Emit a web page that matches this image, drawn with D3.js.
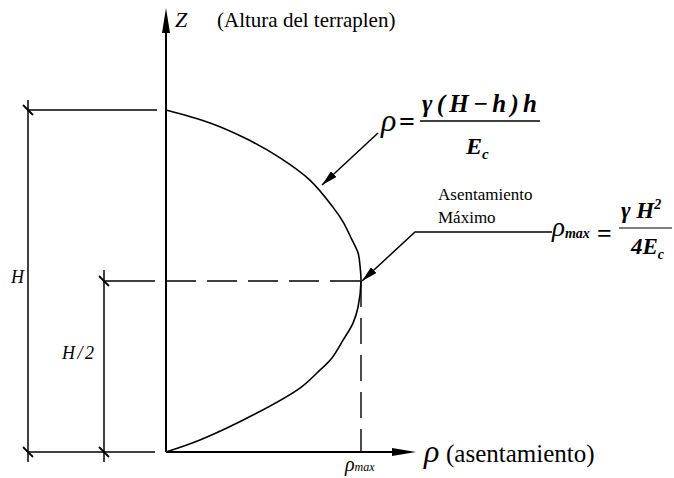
<!DOCTYPE html>
<html>
<head>
<meta charset="utf-8">
<script src="https://cdn.jsdelivr.net/npm/d3@7"></script>
<style>
  body { margin: 0; background: #fff; }
  text { font-family: "Liberation Serif", "Times New Roman", serif; fill: #000; }
</style>
</head>
<body>
<svg width="674" height="478"></svg>
<script>
// settlement curve: h = height / H, rho = settlement / rho_max
const hValues = [0, 0.035, 0.111, 0.187, 0.231, 0.275, 0.327, 0.377, 0.424, 0.5,
  0.544, 0.582, 0.62, 0.673, 0.716, 0.795, 0.86, 0.915, 0.962, 1];
const rhoValues = [0, 0.174, 0.456, 0.687, 0.774, 0.851, 0.908, 0.959, 0.985, 1,
  0.995, 0.985, 0.954, 0.908, 0.856, 0.738, 0.585, 0.415, 0.226, 0];
const axisLabels = ['Z', '(Altura del terraplen)', 'ρ', '(asentamiento)'];

const svg = d3.select('svg');
const x = d3.scaleLinear().domain([0, 1]).range([166, 361]);
const y = d3.scaleLinear().domain([0, 1]).range([452, 110]);
const pts = hValues.map((h, i) => [rhoValues[i], h]);

const defs = svg.append('defs');
defs.append('marker')
  .attr('id', 'head')
  .attr('viewBox', '0 0 16 8')
  .attr('refX', 16).attr('refY', 4)
  .attr('markerWidth', 16).attr('markerHeight', 8)
  .attr('markerUnits', 'userSpaceOnUse')
  .attr('orient', 'auto')
  .append('path').attr('d', 'M0,0L16,4L0,8Z').attr('fill', '#000');

const line = (x1, y1, x2, y2, w) =>
  svg.append('line')
    .attr('x1', x1).attr('y1', y1).attr('x2', x2).attr('y2', y2)
    .attr('stroke', '#000').attr('stroke-width', w || 1.5);

// axes
line(x(0), y(0), x(0), 32, 2);
svg.append('path').attr('d', `M${x(0)},8L${x(0) - 4},33L${x(0) + 4},33Z`);
line(x(0), y(0), 394, y(0), 2);
svg.append('path').attr('d', `M416,${y(0)}L392,${y(0) - 4}L392,${y(0) + 4}Z`);

// curve
svg.append('path')
  .datum(pts)
  .attr('fill', 'none')
  .attr('stroke', '#000')
  .attr('stroke-width', 1.6)
  .attr('d', d3.line().x(d => x(d[0])).y(d => y(d[1])).curve(d3.curveCatmullRom));

// dashed guides to the maximum
line(x(0), y(0.5), x(1), y(0.5), 1.4).attr('stroke-dasharray', '30,11');
line(x(1), y(0.5), x(1), y(0), 1.4).attr('stroke-dasharray', '26,11');

// dimension lines
line(28, y(1) - 10, 28, y(0) + 10);
line(104, y(0.5) - 11, 104, y(0) + 10);
line(28, y(1), 157, y(1));
line(104, y(0.5), 155, y(0.5));
line(28, y(0), 155, y(0));
[[28, 1], [28, 0], [104, 0.5], [104, 0]].forEach(([cx, h]) => {
  line(cx - 5, y(h) - 5, cx + 5, y(h) + 5, 1.8);
});
svg.append('text').attr('x', 11).attr('y', 283)
  .attr('font-size', 18).attr('font-style', 'italic').text('H');
svg.append('text').attr('x', 62).attr('y', 359)
  .attr('font-size', 18).attr('font-style', 'italic')
  .attr('textLength', 32).attr('lengthAdjust', 'spacing').text('H/2');

// axis labels
svg.append('text').attr('x', 175).attr('y', 27)
  .attr('font-size', 22).attr('font-style', 'italic').text(axisLabels[0]);
svg.append('text').attr('x', 217).attr('y', 27)
  .attr('font-size', 21).text(axisLabels[1]);
svg.append('text').attr('x', 424).attr('y', 462)
  .attr('font-size', 32).attr('font-style', 'italic').text(axisLabels[2]);
svg.append('text').attr('x', 446).attr('y', 462)
  .attr('font-size', 25).text(axisLabels[3]);
const pm = svg.append('text').attr('x', 345).attr('y', 471)
  .attr('font-size', 20).attr('font-style', 'italic');
pm.append('tspan').text('ρ');
pm.append('tspan').attr('font-size', 12).text('max');

// formula for rho with arrow
line(378, 133, 322, 185, 1.5).attr('marker-end', 'url(#head)');
svg.append('text').attr('x', 381).attr('y', 131)
  .attr('font-size', 32).attr('font-style', 'italic').text('ρ');
svg.append('text').attr('x', 399).attr('y', 131)
  .attr('font-size', 28).attr('font-weight', 'bold').text('=');
svg.append('text').attr('x', 422).attr('y', 112)
  .attr('font-size', 25).attr('font-weight', 'bold').attr('font-style', 'italic')
  .attr('textLength', 115).attr('lengthAdjust', 'spacing')
  .text('γ(H−h)h');
line(420, 121, 540, 121, 1.5);
const ec = svg.append('text').attr('x', 466).attr('y', 154)
  .attr('font-size', 24).attr('font-weight', 'bold').attr('font-style', 'italic');
ec.append('tspan').text('E');
ec.append('tspan').attr('font-size', 15).attr('dy', 5).text('c');

// maximum settlement
svg.append('text').attr('x', 438).attr('y', 200).attr('font-size', 17).text('Asentamiento');
svg.append('text').attr('x', 438).attr('y', 223).attr('font-size', 17).text('Máximo');
svg.append('path')
  .attr('d', `M552,232L415,232L${x(1) + 1},${y(0.5)}`)
  .attr('fill', 'none').attr('stroke', '#000').attr('stroke-width', 1.5)
  .attr('marker-end', 'url(#head)');
const rm = svg.append('text').attr('x', 552).attr('y', 236)
  .attr('font-size', 27).attr('font-style', 'italic');
rm.append('tspan').text('ρ');
rm.append('tspan').attr('font-size', 14).attr('font-weight', 'bold').attr('dy', 2).text('max');
svg.append('text').attr('x', 597).attr('y', 242)
  .attr('font-size', 26).attr('font-weight', 'bold').text('=');
const num = svg.append('text').attr('x', 621).attr('y', 218)
  .attr('font-size', 23).attr('font-weight', 'bold').attr('font-style', 'italic');
num.append('tspan').text('γ H');
num.append('tspan').attr('font-size', 14).attr('dy', -9).text('2');
line(619, 228, 672, 228, 1.2);
const den = svg.append('text').attr('x', 631).attr('y', 254)
  .attr('font-size', 23).attr('font-weight', 'bold').attr('font-style', 'italic');
den.append('tspan').text('4E');
den.append('tspan').attr('font-size', 14).attr('dy', 5).text('c');
</script>
</body>
</html>
